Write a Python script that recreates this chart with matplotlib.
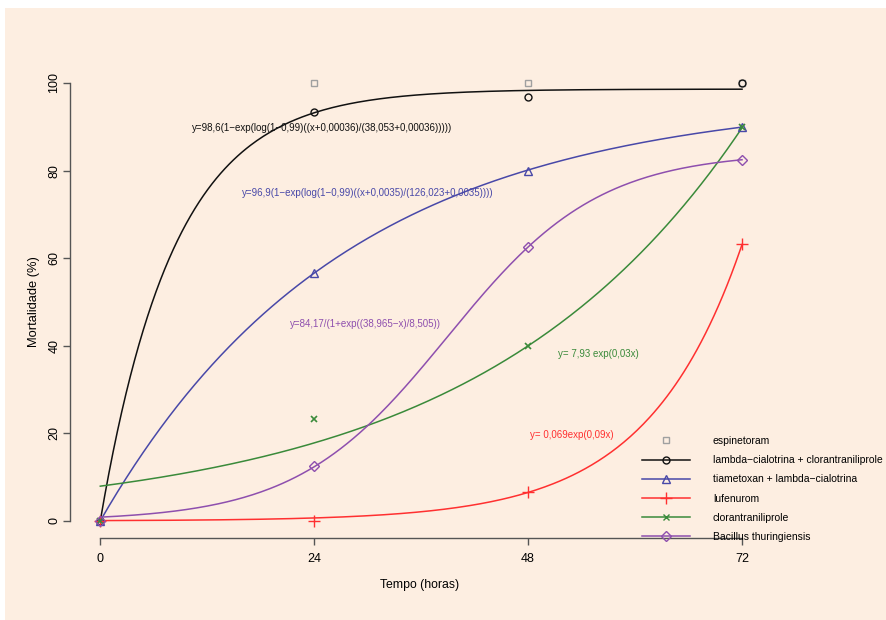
import numpy as np
import matplotlib
matplotlib.use("Agg")
import matplotlib.pyplot as plt
from matplotlib.lines import Line2D

plt.rcParams['font.family'] = ['Liberation Sans', 'DejaVu Sans']

# --- observed data ---
horas = [0, 24, 48, 72]
espinetoram = [0, 100, 100, 100]
lambda_cloran = [0, 93.3, 96.7, 100]
tiametoxan_lambda = [0, 56.7, 80, 90]
lufenurom = [0, 0, 6.7, 63.3]
clorantraniliprole = [0, 23.3, 40, 90]
bacillus = [0, 12.5, 62.5, 82.5]

nomes = ['espinetoram', 'lambda\u2212cialotrina + clorantraniliprole',
         'tiametoxan + lambda\u2212cialotrina', 'lufenurom',
         'clorantraniliprole', 'Bacillus thuringiensis']

cor_cinza = '#a0a0a0'
cor_preto = '#111111'
cor_azul = '#4848a8'
cor_verm = '#ff3030'
cor_verde = '#3a8a3a'
cor_roxo = '#8e4fae'
fundo = '#fdeee1'

# --- fitted models (parameters as drawn) ---
xx = np.linspace(0, 72, 300)
y_preto = 98.6 * (1 - np.exp(np.log(1 - 0.99) * ((xx + 0.00036) / (38.053 + 0.00036))))
y_azul = 96.9 * (1 - np.exp(np.log(1 - 0.99) * ((xx + 0.0035) / (126.023 + 0.0035))))
y_verm = 0.069 * np.exp(0.0947 * xx)
y_verde = 7.93 * np.exp(0.0337 * xx)
y_roxo = 84.17 / (1 + np.exp((38.965 - xx) / 8.505))

fig = plt.figure(figsize=(8.87, 6.2), dpi=100, facecolor='white')
fig.patches.append(plt.Rectangle((5 / 887, 0), 1, 1 - 8 / 620, transform=fig.transFigure,
                                 facecolor=fundo, edgecolor='none', zorder=-10))
ax = fig.add_axes([0.0789, 0.1323, 0.7878, 0.7621])
ax.set_facecolor(fundo)
ax.patch.set_alpha(0)

lw = 1.1
ax.plot(xx, y_preto, color=cor_preto, lw=lw)
ax.plot(xx, y_azul, color=cor_azul, lw=lw)
ax.plot(xx, y_verm, color=cor_verm, lw=lw)
ax.plot(xx, y_verde, color=cor_verde, lw=lw)
ax.plot(xx, y_roxo, color=cor_roxo, lw=lw)

ax.plot(horas, espinetoram, 's', ms=5, mfc='none', mec=cor_cinza, mew=1)
ax.plot(horas, lambda_cloran, 'o', ms=5, mfc='none', mec=cor_preto, mew=1)
ax.plot(horas, tiametoxan_lambda, '^', ms=6, mfc='none', mec=cor_azul, mew=1)
ax.plot(horas, lufenurom, '+', ms=8, mec=cor_verm, mew=1)
ax.plot(horas, clorantraniliprole, 'x', ms=5, mec=cor_verde, mew=1.2)
ax.plot(horas, bacillus, 'D', ms=5, mfc='none', mec=cor_roxo, mew=1)

fs_eq = 7.0
ax.text(10.3, 89.8, 'y=98,6(1\u2212exp(log(1\u22120,99)((x+0,00036)/(38,053+0,00036)))))',
        color=cor_preto, fontsize=fs_eq, va='center')
ax.text(15.9, 74.9, 'y=96,9(1\u2212exp(log(1\u22120,99)((x+0,0035)/(126,023+0,0035))))',
        color=cor_azul, fontsize=fs_eq, va='center')
ax.text(21.3, 45.0, 'y=84,17/(1+exp((38,965\u2212x)/8,505))',
        color=cor_roxo, fontsize=fs_eq, va='center')
ax.text(51.3, 38.0, 'y= 7,93 exp(0,03x)', color=cor_verde, fontsize=fs_eq, va='center')
ax.text(48.2, 19.7, 'y= 0,069exp(0,09x)', color=cor_verm, fontsize=fs_eq, va='center')

ax.set_xlim(-3.4, 75)
ax.set_ylim(-3.9, 104)
for s in ['top', 'right']:
    ax.spines[s].set_visible(False)
ax.spines['left'].set_bounds(0, 100)
ax.spines['bottom'].set_bounds(0, 72)
for s in ['left', 'bottom']:
    ax.spines[s].set_color('#555555')
    ax.spines[s].set_linewidth(1)
ax.set_xticks(horas)
ax.set_yticks([0, 20, 40, 60, 80, 100])
ax.tick_params(axis='both', direction='out', length=5, width=1, color='#555555',
               labelsize=9)
ax.tick_params(axis='y', pad=2)
ax.tick_params(axis='x', pad=6)
for lab in ax.get_yticklabels():
    lab.set_rotation(90)
    lab.set_va('center')
ax.set_xlabel('Tempo (horas)', fontsize=8.8, labelpad=10)
ax.set_ylabel('Mortalidade (%)', fontsize=9.3, labelpad=6)

fs_leg = 7.5
handles = [
    Line2D([], [], ls='none', marker='s', ms=5, mfc='none', mec=cor_cinza),
    Line2D([], [], color=cor_preto, marker='o', ms=5, mfc='none', lw=lw),
    Line2D([], [], color=cor_azul, marker='^', ms=6, mfc='none', lw=lw),
    Line2D([], [], color=cor_verm, marker='+', ms=8, lw=lw),
    Line2D([], [], color=cor_verde, marker='x', ms=5, lw=lw),
    Line2D([], [], color=cor_roxo, marker='D', ms=5, mfc='none', lw=lw),
]
ax.legend(handles, nomes, loc='upper left', bbox_to_anchor=(642 / 887, 1 - 436 / 620),
          bbox_transform=fig.transFigure, frameon=False, fontsize=fs_leg,
          handlelength=4.6, handletextpad=2.2, labelspacing=0.88, borderaxespad=0,
          borderpad=0)

fig.savefig('out.png', dpi=100, facecolor='white')
